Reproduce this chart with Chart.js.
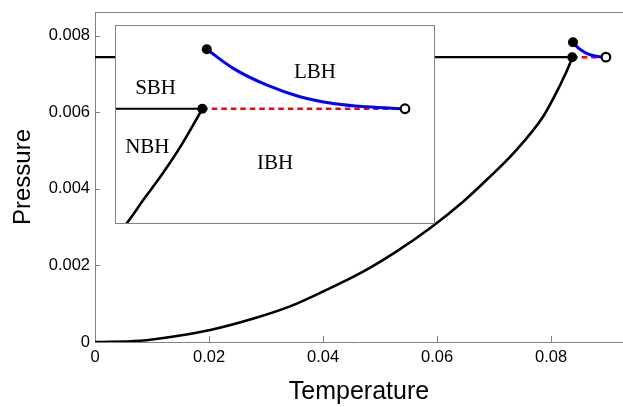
<!DOCTYPE html>
<html>
<head>
<meta charset="utf-8">
<script src="https://cdn.jsdelivr.net/npm/chart.js@4"></script>
<style>
  body { margin: 0; background: #fff; }
  #wrap { position: relative; width: 623px; height: 407px; }
  #inset {
    position: absolute; left: 115px; top: 25px; width: 320px; height: 199px;
    box-sizing: border-box; border: 1px solid #808080; background: #fff;
  }
  #inset canvas { display: block; }
</style>
</head>
<body>
<div id="wrap">
  <canvas id="main" width="623" height="407"></canvas>
  <div id="inset"><canvas id="zoom" width="318" height="197"></canvas></div>
</div>
<script>
// coexistence curve (NBH / IBH boundary)
const curveT = [0, 0.0079, 0.0138, 0.0204, 0.0284, 0.0342, 0.0401, 0.0471, 0.0529, 0.0588, 0.0646, 0.0687, 0.0734, 0.0786, 0.0815, 0.082032, 0.082411, 0.082774, 0.083109, 0.083415, 0.0837]
const curveP = [0, 0.000034, 0.000146, 0.000321, 0.00064, 0.00093, 0.001326, 0.001843, 0.002366, 0.002977, 0.003671, 0.004238, 0.004935, 0.00589, 0.006688, 0.006857, 0.006972, 0.00709, 0.007208, 0.007326, 0.00744]
// SBH line
const sbhT = [0, 0.0837]
const sbhP = [0.00744, 0.00744]
// LBH branch (blue)
const lbhT = [0.08383, 0.0846, 0.08557, 0.08654, 0.08751, 0.08849, 0.0896]
const lbhP = [0.00783, 0.007705, 0.007596, 0.007519, 0.007475, 0.007453, 0.00744]
// red dashed
const dashT = [0.0837, 0.0896]
const dashP = [0.00744, 0.00744]
// end points
const dotT = [0.0837, 0.08383]
const dotP = [0.00744, 0.00783]
const openT = [0.0896]
const openP = [0.00744]

const tempTicks = [0, 0.02, 0.04, 0.06, 0.08]
const presTicks = [0, 0.002, 0.004, 0.006, 0.008]

// inset labels
const regionNames = ['SBH', 'LBH', 'NBH', 'IBH']
const regionT = [0.08234, 0.08698, 0.0821, 0.08582]
const regionP = [0.007574, 0.00768, 0.007185, 0.007082]

const sans = 'Liberation Sans, Arial, sans-serif'
const serif = 'Liberation Serif, Times New Roman, serif'
const gray = '#808080'

function pts(xs, ys) {
    return xs.map((x, i) => ({x: x, y: ys[i]}))
}

function build_datasets() {
    return [
        {data: pts(dotT, dotP), pointRadius: 5, backgroundColor: '#000', borderWidth: 0},
        {data: pts(openT, openP), pointRadius: 4.3, backgroundColor: '#fff', borderColor: '#000', borderWidth: 2.2},
        {data: pts(lbhT, lbhP), showLine: true, pointRadius: 0, borderColor: '#0000ff', borderWidth: 3, cubicInterpolationMode: 'monotone'},
        {data: pts(dashT, dashP), showLine: true, pointRadius: 0, borderColor: '#ff0000', borderWidth: 2.5, borderDash: [5.5, 4]},
        {data: pts(sbhT, sbhP), showLine: true, pointRadius: 0, borderColor: '#000', borderWidth: 2.2},
        {data: pts(curveT, curveP), showLine: true, pointRadius: 0, borderColor: '#000', borderWidth: 2.6, cubicInterpolationMode: 'monotone'}
    ]
}

const frame = {
    id: 'frame',
    beforeDatasetsDraw(chart) {
        const {ctx, chartArea: a, scales: {x, y}} = chart
        ctx.save()
        ctx.strokeStyle = gray
        ctx.lineWidth = 1
        ctx.beginPath()
        ctx.moveTo(a.left, a.top + 0.5)
        ctx.lineTo(a.right, a.top + 0.5)
        x.ticks.forEach(t => {
            let px = Math.round(x.getPixelForValue(t.value)) + 0.5
            ctx.moveTo(px, a.bottom)
            ctx.lineTo(px, a.bottom - 6)
        })
        y.ticks.forEach(t => {
            let py = Math.round(y.getPixelForValue(t.value)) + 0.5
            ctx.moveTo(a.left, py)
            ctx.lineTo(a.left + 5, py)
        })
        ctx.stroke()
        ctx.restore()
    }
}

new Chart(document.getElementById('main'), {
    type: 'scatter',
    data: {datasets: build_datasets()},
    options: {
        responsive: false,
        animation: false,
        layout: {autoPadding: false, padding: {top: 12, right: 0, left: 0, bottom: 0}},
        plugins: {legend: {display: false}, tooltip: {enabled: false}},
        scales: {
            x: {
                type: 'linear', min: 0, max: 0.0926,
                afterBuildTicks: s => { s.ticks = tempTicks.map(v => ({value: v})) },
                afterFit: s => { s.height = 65; s.paddingLeft = 0; s.paddingRight = 0 },
                grid: {drawOnChartArea: false, drawTicks: false},
                border: {color: gray, width: 1},
                ticks: {color: '#000', font: {family: sans, size: 16.5}, padding: 6, maxRotation: 0, callback: v => String(v)},
                title: {display: true, text: 'Temperature', color: '#000', font: {family: sans, size: 25, lineHeight: 1.2}, padding: {top: 0, bottom: 0}}
            },
            y: {
                type: 'linear', min: 0, max: 0.00862,
                afterBuildTicks: s => { s.ticks = presTicks.map(v => ({value: v})) },
                afterFit: s => { s.width = 95; s.paddingTop = 0; s.paddingBottom = 0 },
                grid: {drawOnChartArea: false, drawTicks: false},
                border: {color: gray, width: 1},
                ticks: {color: '#000', font: {family: sans, size: 16.5}, padding: 5, callback: v => String(v)},
                title: {display: true, text: 'Pressure', color: '#000', font: {family: sans, size: 24, lineHeight: 1.2}, padding: {top: 9, bottom: 0}}
            }
        }
    },
    plugins: [frame]
})

const names = {
    id: 'names',
    afterDatasetsDraw(chart) {
        const {ctx, scales: {x, y}} = chart
        ctx.save()
        ctx.fillStyle = '#000'
        ctx.font = '21px ' + serif
        ctx.textAlign = 'center'
        ctx.textBaseline = 'middle'
        regionNames.forEach((n, i) => {
            ctx.fillText(n, x.getPixelForValue(regionT[i]), y.getPixelForValue(regionP[i]))
        })
        ctx.restore()
    }
}

new Chart(document.getElementById('zoom'), {
    type: 'scatter',
    data: {datasets: build_datasets()},
    options: {
        responsive: false,
        animation: false,
        layout: {autoPadding: false, padding: 0},
        plugins: {legend: {display: false}, tooltip: {enabled: false}},
        scales: {
            x: {type: 'linear', min: 0.081188, max: 0.090444, display: false},
            y: {type: 'linear', min: 0.00669, max: 0.007983, display: false}
        }
    },
    plugins: [names]
})
</script>
</body>
</html>
